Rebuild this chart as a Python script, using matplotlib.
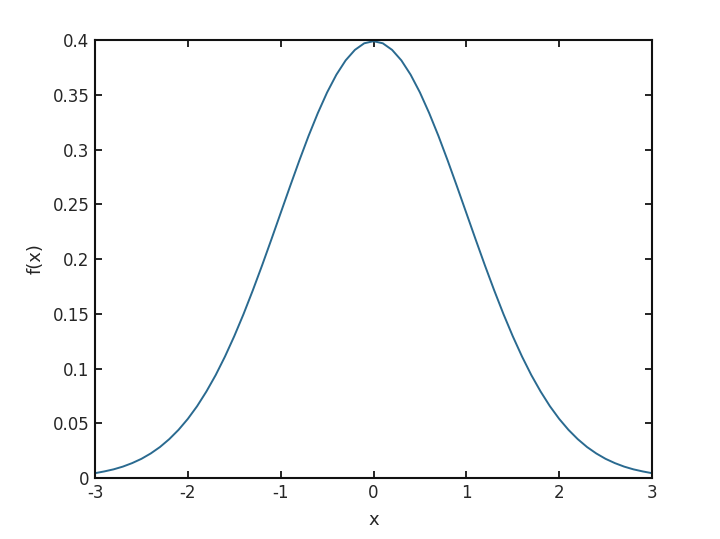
import matplotlib
matplotlib.use("Agg")
import matplotlib.pyplot as plt

# values, x from -3 to 3 in steps of 0.1
half_x = [0.0, 0.1, 0.2, 0.3, 0.4, 0.5, 0.6, 0.7, 0.8, 0.9, 1.0,
          1.1, 1.2, 1.3, 1.4, 1.5, 1.6, 1.7, 1.8, 1.9, 2.0,
          2.1, 2.2, 2.3, 2.4, 2.5, 2.6, 2.7, 2.8, 2.9, 3.0]
half_fx = [0.3989, 0.3970, 0.3910, 0.3814, 0.3683, 0.3521, 0.3332, 0.3123, 0.2897, 0.2661, 0.2420,
           0.2179, 0.1942, 0.1714, 0.1497, 0.1295, 0.1109, 0.0940, 0.0790, 0.0656, 0.0540,
           0.0440, 0.0355, 0.0283, 0.0224, 0.0175, 0.0136, 0.0104, 0.0079, 0.0060, 0.0044]

# curve is symmetric about 0
x_vals = [-v for v in half_x[:0:-1]] + half_x
fx_vals = half_fx[:0:-1] + half_fx

x_ticks = [-3, -2, -1, 0, 1, 2, 3]
y_ticks = [0, 0.05, 0.1, 0.15, 0.2, 0.25, 0.3, 0.35, 0.4]
y_labels = ['0', '0.05', '0.1', '0.15', '0.2', '0.25', '0.3', '0.35', '0.4']

fig = plt.figure(figsize=(7.2, 5.39), dpi=100)
ax = fig.add_axes([95 / 720, 1 - 478 / 539, (652 - 95) / 720, (478 - 40) / 539])

ax.plot(x_vals, fx_vals, color='#2a6a90', linewidth=1.4)

ax.set_xlim(-3, 3)
ax.set_ylim(0, 0.4)
ax.set_xticks(x_ticks)
ax.set_xticklabels([str(t) for t in x_ticks])
ax.set_yticks(y_ticks)
ax.set_yticklabels(y_labels)
ax.tick_params(direction='in', top=True, right=True, length=5, width=1.2,
               labelsize=12, labelcolor='#262626', pad=4)
for s in ax.spines.values():
    s.set_linewidth(1.5)
    s.set_color('#111111')

ax.set_xlabel('x', fontsize=13, color='#262626', labelpad=7)
ax.set_ylabel('f(x)', fontsize=13, color='#262626', labelpad=6)

fig.savefig('out.png', dpi=100)
